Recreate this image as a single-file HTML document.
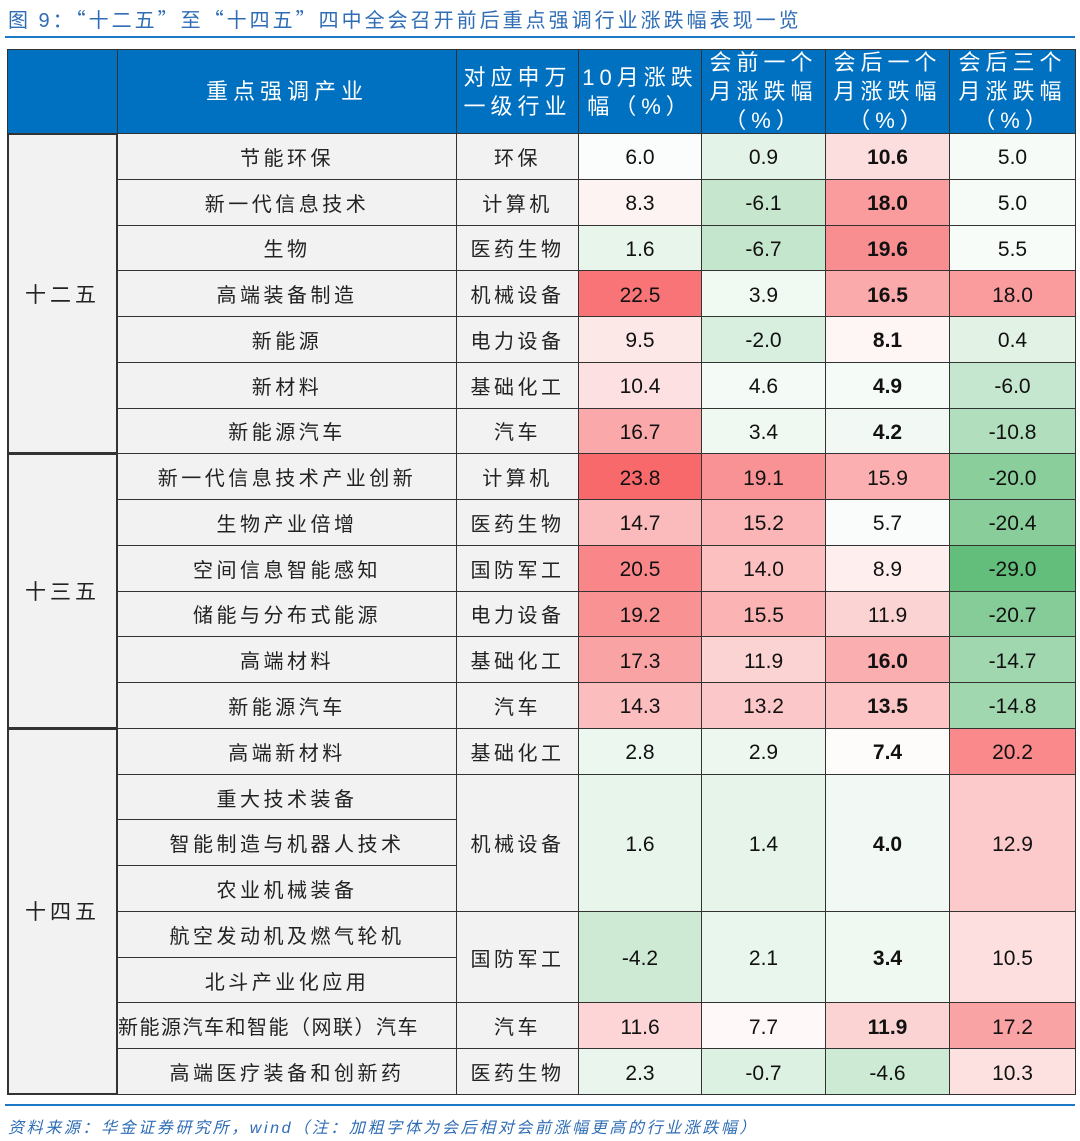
<!DOCTYPE html>
<html><head><meta charset="utf-8">
<style>
body{margin:0;background:#fff;width:1080px;height:1141px;position:relative;overflow:hidden;font-family:"Liberation Sans","Noto Sans CJK SC",sans-serif;}
.a{position:absolute;box-sizing:border-box;display:flex;align-items:center;justify-content:center;text-align:center;}
#title{position:absolute;left:8px;top:4px;font-size:20px;letter-spacing:3px;color:#2f6db5;white-space:nowrap;font-family:"Noto Sans CJK SC",sans-serif;}
#title .n{font-family:"Liberation Sans",sans-serif;}
#rule1{position:absolute;left:5px;top:36px;width:1070px;height:2px;background:#1e78c8;}
#rule2{position:absolute;left:5px;top:1104px;width:1070px;height:2px;background:#1e78c8;}
#foot{position:absolute;left:8px;top:1114px;font-size:16px;font-style:italic;color:#2f6db5;white-space:nowrap;letter-spacing:2.6px;}
.h{background:#0070c0;color:#fff;font-size:22px;letter-spacing:5px;line-height:29px;border:1.5px solid #333;}
.c{border:1.5px solid #333;font-size:20px;color:#222;}
.lab{background:#f2f2f2;letter-spacing:3.5px;}
.v{font-size:21px;color:#111;padding-top:4px;}
.b{font-weight:bold;}
</style></head><body>
<div id="title">图 <span class="n">9</span>：“十二五”至“十四五”四中全会召开前后重点强调行业涨跌幅表现一览</div>
<div id="rule1"></div>
<div id="tbl"></div>
<div id="rule2"></div>
<div id="foot">资料来源：华金证券研究所，wind（注：加粗字体为会后相对会前涨幅更高的行业涨跌幅）</div>
<script>
const headers=["","重点强调产业","对应申万<br>一级行业","10月涨跌<br>幅（%）","会前一个<br>月涨跌幅<br>（%）","会后一个<br>月涨跌幅<br>（%）","会后三个<br>月涨跌幅<br>（%）"];
const groups=["十二五","十三五","十四五"];
const groupRows=[7,6,8];
const industries=["节能环保","新一代信息技术","生物","高端装备制造","新能源","新材料","新能源汽车","新一代信息技术产业创新","生物产业倍增","空间信息智能感知","储能与分布式能源","高端材料","新能源汽车","高端新材料","重大技术装备","智能制造与机器人技术","农业机械装备","航空发动机及燃气轮机","北斗产业化应用","新能源汽车和智能（网联）汽车","高端医疗装备和创新药"];
const spans=[1,1,1,1,1,1,1,1,1,1,1,1,1,1,3,0,0,2,0,1,1];
const sectors=["环保","计算机","医药生物","机械设备","电力设备","基础化工","汽车","计算机","医药生物","国防军工","电力设备","基础化工","汽车","基础化工","机械设备","","","国防军工","","汽车","医药生物"];
const octChg=[6.0,8.3,1.6,22.5,9.5,10.4,16.7,23.8,14.7,20.5,19.2,17.3,14.3,2.8,1.6,null,null,-4.2,null,11.6,2.3];
const preChg=[0.9,-6.1,-6.7,3.9,-2.0,4.6,3.4,19.1,15.2,14.0,15.5,11.9,13.2,2.9,1.4,null,null,2.1,null,7.7,-0.7];
const post1Chg=[10.6,18.0,19.6,16.5,8.1,4.9,4.2,15.9,5.7,8.9,11.9,16.0,13.5,7.4,4.0,null,null,3.4,null,11.9,-4.6];
const post3Chg=[5.0,5.0,5.5,18.0,0.4,-6.0,-10.8,-20.0,-20.4,-29.0,-20.7,-14.7,-14.8,20.2,12.9,null,null,10.5,null,17.2,10.3];

const X=[7,117,456,578,701,825,949,1075];
const TOP=49,HB=133,RH=45.76;
const tbl=document.getElementById('tbl');
function color(v){
  const mn=-29,mid=7,mx=23.8;
  let r,g,b;
  if(v>=mid){const t=Math.min(1,(v-mid)/(mx-mid));r=255-t*7;g=255-t*150;b=255-t*148;}
  else{const t=Math.min(1,(mid-v)/(mid-mn));r=255-t*156;g=255-t*65;b=255-t*132;}
  return `rgb(${r|0},${g|0},${b|0})`;
}
function cell(x0,x1,y0,y1,html,cls,bg){
  const d=document.createElement('div');
  d.className='a '+cls;
  d.style.left=x0+'px';d.style.top=y0+'px';d.style.width=(x1-x0+1)+'px';d.style.height=(y1-y0+1)+'px';
  if(bg)d.style.background=bg;
  d.innerHTML=html;
  tbl.appendChild(d);
  return d;
}
headers.forEach((h,i)=>{
  const d=cell(X[i],X[i+1],TOP,HB,h,'h');
  
  
});
let r0=0;
groups.forEach((g,gi)=>{
  const d=cell(X[0],X[1],HB+r0*RH,HB+(r0+groupRows[gi])*RH,g,'c lab');
  d.style.border='2px solid #333';d.style.letterSpacing='4px';d.style.fontSize='21px';
  
  
  r0+=groupRows[gi];
});
const cols=[octChg,preChg,post1Chg,post3Chg];
industries.forEach((ind,i)=>{
  const y0=HB+i*RH,y1=HB+(i+1)*RH;
  const d=cell(X[1],X[2],y0,y1,ind,'c lab');
  if(ind.length>12){d.style.letterSpacing='1.5px';d.style.justifyContent='flex-start';d.style.paddingLeft='0';d.style.whiteSpace='nowrap';d.style.overflow='hidden';}
  
  
  if(spans[i]>0){
    const ye=HB+(i+spans[i])*RH;
    const s=cell(X[2],X[3],y0,ye,sectors[i],'c lab');
    
    
    cols.forEach((arr,ci)=>{
      const v=arr[i];
      const bold=(ci===2&&v>preChg[i]);
      const c=cell(X[3+ci],X[4+ci],y0,ye,v.toFixed(1),'c v'+(bold?' b':''),color(v));
      
      
    });
  }
});
</script>
</body></html>
